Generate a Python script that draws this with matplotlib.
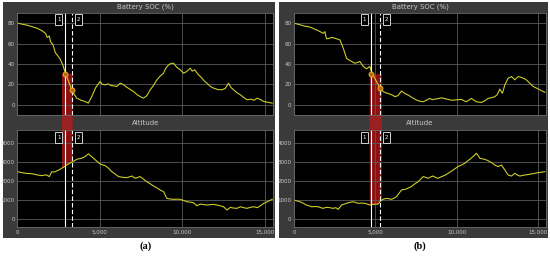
import matplotlib
matplotlib.use("Agg")
import matplotlib.pyplot as plt
import numpy as np
from matplotlib.patches import Rectangle, Polygon

# ---- data ----
# panel (a)
soc_a_x = [0, 300, 600, 900, 1200, 1500, 1700, 1800, 1930, 2000, 2150, 2300, 2450, 2580,
           2750, 2900, 3050, 3290, 3450, 3600, 3850, 4050, 4300, 4500, 4750, 5010, 5150,
           5320, 5500, 5650, 5820, 6030, 6230, 6450, 6600, 6800, 7040, 7250, 7440, 7640,
           7850, 8050, 8250, 8460, 8650, 8860, 9000, 9160, 9300, 9470, 9650, 9870, 10070,
           10250, 10480, 10600, 10750, 10950, 11190, 11350, 11500, 11700, 11900, 12150,
           12400, 12600, 12800, 12950, 13110, 13300, 13520, 13700, 13920, 14150, 14350,
           14540, 14750, 14940, 15200, 15450]
soc_a_y = [80, 79, 78, 76.5, 75, 72.5, 70, 66, 67.5, 62, 59, 51, 48, 45,
           39, 31.5, 25, 14.7, 10, 6.5, 4.5, 3.5, 1.7, 8, 17, 22.8, 20,
           19.6, 20.5, 19, 18.6, 18, 21.2, 19.5, 17.5, 15.5, 13, 10, 8.1, 6.5,
           9, 14.7, 19, 24.5, 28, 31, 36, 39, 40.5, 40.8, 37, 34.3, 31,
           32.5, 35.9, 33, 34.3, 30, 26.1, 23, 21.2, 18, 16.3, 15,
           14.7, 16, 21.2, 17, 14.7, 12, 9.8, 7.5, 4.9, 5.5, 4.5,
           6.5, 5, 3.2, 2.5, 1.6]
alt_a_x = [0, 250, 510, 750, 965, 1200, 1470, 1620, 1770, 1930, 2080, 2230, 2380, 2530,
           2680, 2830, 2990, 3140, 3290, 3450, 3600, 3750, 3900, 4100, 4300, 4450, 4610,
           4800, 5010, 5160, 5320, 5500, 5720, 5920, 6130, 6400, 6630, 6800, 6940, 7140,
           7300, 7440, 7650, 7850, 8050, 8250, 8450, 8660, 8860, 9060, 9250, 9470, 9670,
           9870, 10080, 10280, 10480, 10680, 10880, 11090, 11300, 11500, 11700, 11900,
           12100, 12300, 12500, 12710, 12910, 13100, 13320, 13520, 13720, 13920, 14130,
           14330, 14540, 14740, 14940, 15200, 15450]
alt_a_y = [2500, 2450, 2414, 2400, 2380, 2330, 2290, 2320, 2325, 2240, 2500, 2480, 2540, 2600,
           2680, 2760, 2850, 2930, 3000, 3080, 3150, 3190, 3210, 3300, 3440, 3330, 3210,
           3060, 2910, 2860, 2820, 2700, 2500, 2380, 2240, 2200, 2185, 2230, 2270, 2150,
           2200, 2240, 2100, 1970, 1860, 1745, 1650, 1530, 1445, 1090, 1060, 1040, 1050,
           1040, 980, 915, 890, 860, 700, 790, 760, 740, 760, 775,
           740, 700, 650, 475, 615, 580, 565, 650, 600, 565, 620,
           650, 600, 700, 830, 930, 1040]
# panel (b)
soc_b_x = [0, 250, 470, 680, 880, 1100, 1290, 1450, 1600, 1800, 1900, 2000, 2150, 2310,
           2470, 2620, 2820, 3030, 3230, 3380, 3540, 3740, 3900, 4050, 4260, 4460, 4670,
           4770, 4970, 5130, 5280, 5480, 5700, 5890, 6050, 6200, 6400, 6610, 6800, 7020,
           7270, 7530, 7740, 7940, 8150, 8350, 8500, 8660, 8860, 9070, 9280, 9480, 9690,
           9890, 10100, 10300, 10450, 10600, 10750, 10910, 11060, 11220, 11380, 11530,
           11740, 11940, 12150, 12350, 12500, 12660, 12820, 12970, 13170, 13380, 13580,
           13790, 13950, 14100, 14250, 14400, 14550, 14710, 14900, 15120, 15430]
soc_b_y = [80, 79, 78, 77, 76.6, 75.5, 74, 73, 71.8, 70, 71.8, 64.7, 65, 66,
           65.5, 64.7, 63.7, 55.5, 45.7, 44, 42.5, 40.8, 41.5, 42.5, 37.6, 35.3, 37.6,
           32, 26, 21, 16.8, 12.9, 11.5, 10.6, 9.5, 8, 9, 13.5, 11.3, 9.6,
           7, 4.7, 3.5, 3, 4.5, 6.3, 5, 5.6, 6, 6.9, 6, 5.3, 4.5,
           4.7, 5, 5.3, 4, 3, 4.5, 6.3, 4.5, 3, 2.6, 2.3,
           4, 6.3, 7, 7.9, 10, 15.4, 11.3, 19.6, 26, 27.7, 24.5,
           27.7, 27, 26, 25, 22.8, 20.5, 18, 16.5, 14.7, 12.2]
alt_b_x = [0, 175, 350, 560, 760, 920, 1080, 1300, 1490, 1650, 1800, 1950, 2100, 2250,
           2410, 2570, 2720, 2930, 3130, 3330, 3490, 3640, 3800, 3950, 4150, 4350, 4500,
           4670, 4870, 5020, 5170, 5380, 5540, 5690, 5840, 5990, 6150, 6300, 6450, 6610,
           6760, 6910, 7060, 7220, 7420, 7630, 7790, 7940, 8100, 8250, 8400, 8550, 8700,
           8860, 9020, 9170, 9330, 9480, 9640, 9790, 9940, 10090, 10300, 10500, 10650,
           10810, 10970, 11120, 11220, 11330, 11430, 11580, 11730, 11890, 12040, 12200,
           12350, 12550, 12760, 12970, 13170, 13380, 13580, 13740, 13890, 14050, 14200,
           14400, 14600, 14800, 15010, 15220, 15430]
alt_b_y = [1000, 960, 915, 840, 740, 700, 650, 660, 650, 600, 565, 610, 615, 590,
           565, 600, 510, 740, 800, 860, 890, 915, 870, 830, 840, 830, 790,
           740, 775, 780, 790, 1000, 1060, 1090, 1070, 1040, 1100, 1180, 1350, 1530,
           1560, 1585, 1650, 1710, 1850, 1970, 2100, 2240, 2200, 2150, 2220, 2270, 2200,
           2150, 2220, 2270, 2330, 2414, 2500, 2590, 2680, 2770, 2850, 2940, 3050,
           3150, 3270, 3380, 3470, 3350, 3210, 3180, 3150, 3100, 3030, 2950,
           2850, 2770, 2850, 2590, 2325, 2270, 2414, 2320, 2270, 2300, 2325,
           2350, 2380, 2410, 2450, 2470, 2500]

cursor_a = (2900, 3300)
cursor_b = (4720, 5280)
band_a = (2700, 3350)
band_b = (4660, 5400)
soc_at_cursor_a = (30.5, 15)
soc_at_cursor_b = (30, 16)

soc_ticks = [0, 20, 40, 60, 80]
alt_ticks = [0, 1000, 2000, 3000, 4000]
x_ticks = [0, 5000, 10000, 15000]
x_ticklabels = ["0", "5,000", "10,000", "15,000"]

W, H = 550, 257
fig = plt.figure(figsize=(W / 100, H / 100), dpi=100)
fig.patch.set_facecolor("white")

PANEL = "#3a3a3a"
LINE = "#cccc2a"
TXT = "#c8c8c8"
GRID = "#5a5a5a"


def fbox(x0, y0, x1, y1):
    # pixel box (top-left origin) -> figure fraction rect
    return [x0 / W, 1 - y1 / H, (x1 - x0) / W, (y1 - y0) / H]


def make_axes(px):
    r = fbox(*px)
    fig.add_artist(Rectangle((r[0], r[1]), r[2], r[3], transform=fig.transFigure,
                             facecolor="black", edgecolor="none", zorder=0.6))
    ax = fig.add_axes(r)
    ax.set_zorder(2)
    ax.set_facecolor("none")
    for s in ax.spines.values():
        s.set_color("#6a6a6a")
        s.set_linewidth(0.6)
    ax.tick_params(length=0, labelsize=4, colors=TXT, pad=2)
    ax.grid(True, color=GRID, linewidth=0.6)
    ax.set_xlim(0, 15500)
    ax.set_xticks(x_ticks)
    return ax


def cursor_tag(a, xval, side, txt, top_px):
    # small outlined box with cursor number, placed beside the cursor line
    xpx = a.transData.transform((xval, 0))[0]
    x0 = xpx - 10 if side == "left" else xpx + 3
    r = fbox(x0, top_px, x0 + 7, top_px + 11)
    fig.add_artist(Rectangle((r[0], r[1]), r[2], r[3], transform=fig.transFigure,
                             facecolor="black", edgecolor="#d0d0d0", lw=0.7, zorder=3))
    fig.text(r[0] + r[2] / 2, r[1] + r[3] / 2, txt, ha="center", va="center",
             fontsize=4, color="white", zorder=4)


def panel(x0, x1, lab, sx, sy, ax_, ay, cur, band, socc):
    r = fbox(x0 - 15, 2, x1 + 2, 238)
    fig.add_artist(Rectangle((r[0], r[1]), r[2], r[3], transform=fig.transFigure,
                             facecolor=PANEL, edgecolor="none", zorder=0))
    top = make_axes((x0, 13, x1, 115))
    bot = make_axes((x0, 130, x1, 227))
    top.set_ylim(-10, 90)
    top.set_yticks(soc_ticks)
    top.set_xticklabels([])
    bot.set_ylim(-420, 4700)
    bot.set_yticks(alt_ticks)
    bot.set_xticklabels(x_ticklabels)
    top.plot(sx, sy, color=LINE, lw=0.8)
    bot.plot(ax_, ay, color=LINE, lw=0.8)

    cx = (x0 + x1) / 2
    fig.text(cx / W, 1 - 7 / H, "Battery SOC (%)", ha="center", va="center",
             fontsize=5, color=TXT)
    fig.text(cx / W, 1 - 123 / H, "Altitude", ha="center", va="center",
             fontsize=5, color=TXT)
    fig.text(cx / W, 1 - 246 / H, lab, ha="center", va="center", fontsize=7.5,
             fontweight="bold", family="Liberation Serif", color="black")

    for a, tp in ((top, 14), (bot, 132)):
        a.axvline(cur[0], color="white", lw=0.8)
        a.axvline(cur[1], color="white", lw=0.8, ls=(0, (4, 2)))
        cursor_tag(a, cur[0], "left", "1", tp)
        cursor_tag(a, cur[1], "right", "2", tp)
    top.plot(cur, socc, "o", ms=3.5, mfc="#b06a10", mec="#f0a830", mew=0.7)

    # red band linking the two plots
    inv = fig.transFigure.inverted()
    xs = np.linspace(band[0], band[1], 10)
    ys = np.interp(xs, ax_, ay)
    pts_top = [top.transData.transform((band[0], socc[0])),
               top.transData.transform((band[1], socc[0]))]
    pts_bot = [bot.transData.transform((x, y)) for x, y in zip(xs[::-1], ys[::-1])]
    pts = inv.transform(np.array(pts_top + pts_bot))
    fig.add_artist(Polygon(pts, closed=True, transform=fig.transFigure,
                           facecolor="#c01818", alpha=0.72, edgecolor="none", zorder=1))


panel(17.5, 273, "(a)", soc_a_x, soc_a_y, alt_a_x, alt_a_y, cursor_a, band_a, soc_at_cursor_a)
panel(294, 546, "(b)", soc_b_x, soc_b_y, alt_b_x, alt_b_y, cursor_b, band_b, soc_at_cursor_b)

fig.savefig("out.png", dpi=100)
